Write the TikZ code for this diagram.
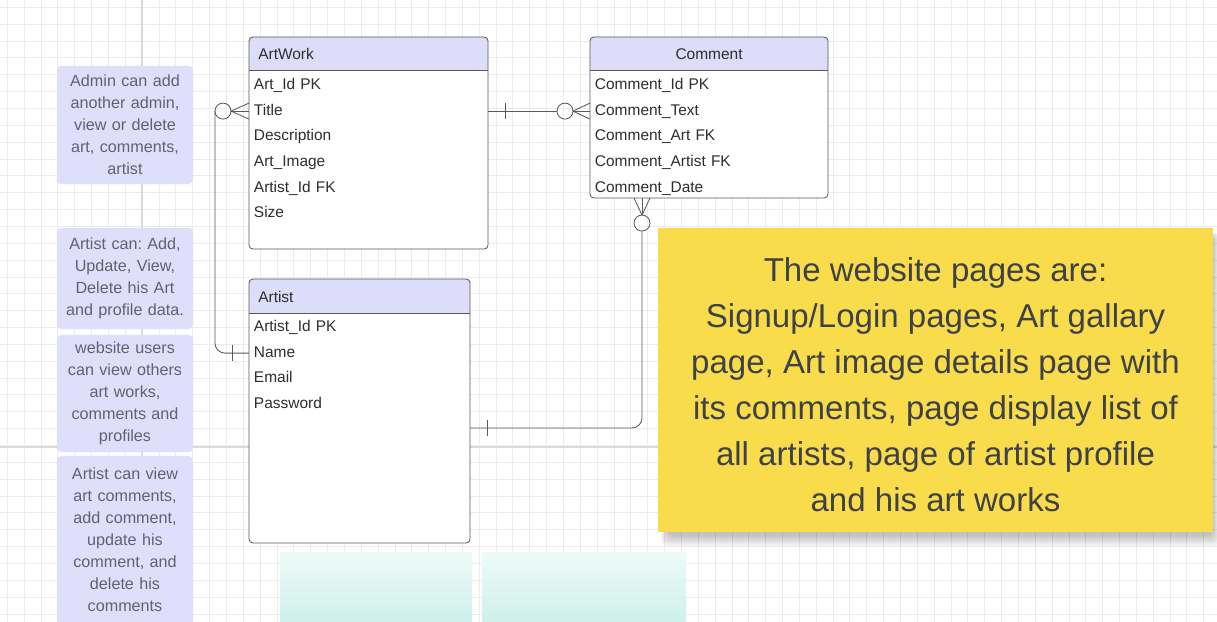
\documentclass[tikz,border=0pt]{standalone}
\usepackage{fontspec}
\setmainfont{Liberation Sans}
\frenchspacing
\usepackage{tikz}
\usetikzlibrary{calc}
\definecolor{lavender}{RGB}{221,221,250}
\definecolor{notefill}{RGB}{223,223,251}
\definecolor{notetext}{RGB}{96,98,112}
\definecolor{stickyyellow}{RGB}{248,220,76}
\definecolor{inkgray}{RGB}{62,66,70}
\definecolor{inkdark}{RGB}{45,45,50}
\definecolor{linegray}{RGB}{88,88,94}
\definecolor{gridminor}{RGB}{236,236,236}
\definecolor{gridmajor}{RGB}{218,218,218}
\definecolor{smudge}{RGB}{206,241,235}
\tikzstyle{tablebody} = [rectangle, anchor=north west, fill=white, outer sep=0pt, inner sep=0pt]
\tikzstyle{field} = [rectangle, minimum height=0.64cm, inner xsep=0.125cm, inner ysep=0pt, outer sep=0pt, align=left, text=inkdark, font=\fontsize{11}{13}\selectfont, text height=1.6ex, text depth=0.45ex]
\tikzstyle{headtitle} = [inner sep=0pt, anchor=west, text=inkdark, font=\fontsize{11}{13}\selectfont]
\tikzstyle{note} = [rectangle, rounded corners=0.1cm, minimum width=3.4cm, text width=3.3cm, align=center, fill=notefill, text=notetext, font=\fontsize{11.5}{15.6}\selectfont, inner sep=0pt]
\tikzstyle{sticky} = [rectangle, minimum width=13.875cm, minimum height=7.6cm, fill=stickyyellow, inner sep=0pt]
\tikzstyle{stickytext} = [align=center, text=inkgray, font=\fontsize{23.5}{32.7}\selectfont, inner sep=0pt]
\tikzstyle{erline} = [draw=linegray, line width=0.6pt]
\begin{document}
\begin{tikzpicture}[x=0.025cm, y=-0.025cm, node distance=0.64cm]
	\useasboundingbox (0,0) rectangle (1217,622);
	\fill[white] (0,0) rectangle (1217,622);
	%grid
	\foreach \gx in {7.3,24.15,...,1217} \draw[gridminor, line width=0.5pt] (\gx,0) -- (\gx,622);
	\foreach \gy in {7.3,24.15,...,622} \draw[gridminor, line width=0.5pt] (0,\gy) -- (1217,\gy);
	\draw[gridmajor, line width=0.9pt] (142,0) -- (142,622);
	\draw[gridmajor, line width=0.9pt] (0,447) -- (1217,447);
	%smudge below the tables
	\fill[top color=smudge!35!white, bottom color=smudge] (280,552) rectangle (472,622);
	\fill[top color=smudge!35!white, bottom color=smudge] (482,552) rectangle (686,622);
	%notes
	\node (n1) [note, minimum height=2.95cm] at (125,125) {Admin can add\\another admin,\\view or delete\\art, comments,\\artist};
	\node (n2) [note, minimum height=2.525cm] at (125,278.5) {Artist can: Add,\\Update, View,\\Delete his Art\\and profile data.};
	\node (n3) [note, minimum height=2.925cm] at (125,393.5) {website users\\can view others\\art works,\\comments and\\profiles};
	\node (n4) [note, minimum height=4.2cm] at (125,540) {Artist can view\\art comments,\\add comment,\\update his\\comment, and\\delete his\\comments};
	%ArtWork table
	\node (artwork) [tablebody, minimum width=5.975cm, minimum height=5.3cm] at (249,37) {};
	\begin{scope}
		\clip (artwork.north west) rectangle ($(artwork.north east)+(0,33)$);
		\fill[lavender, rounded corners=0.1cm] (artwork.north west) rectangle (artwork.south east);
	\end{scope}
	\draw[erline, rounded corners=0.1cm] (artwork.north west) rectangle (artwork.south east);
	\draw[erline] ($(artwork.north west)+(0,33)$) -- ($(artwork.north east)+(0,33)$);
	\node (awtitle) [headtitle] at ($(artwork.north west)+(9,17)$) {ArtWork};
	\node (aw1) [field, text width=5.725cm] at (368.5,85.5) {Art\_Id PK};
	\node (aw2) [field, text width=5.725cm, below of=aw1] {Title};
	\node (aw3) [field, text width=5.725cm, below of=aw2] {Description};
	\node (aw4) [field, text width=5.725cm, below of=aw3] {Art\_Image};
	\node (aw5) [field, text width=5.725cm, below of=aw4] {Artist\_Id FK};
	\node (aw6) [field, text width=5.725cm, below of=aw5] {Size};
	%Comment table
	\node (comment) [tablebody, minimum width=5.95cm, minimum height=4.025cm] at (590,37) {};
	\begin{scope}
		\clip (comment.north west) rectangle ($(comment.north east)+(0,33)$);
		\fill[lavender, rounded corners=0.1cm] (comment.north west) rectangle (comment.south east);
	\end{scope}
	\draw[erline, rounded corners=0.1cm] (comment.north west) rectangle (comment.south east);
	\draw[erline] ($(comment.north west)+(0,33)$) -- ($(comment.north east)+(0,33)$);
	\node (cttitle) [headtitle, anchor=center] at ($(comment.north)+(0,17)$) {Comment};
	\node (ct1) [field, text width=5.7cm] at (709,85.5) {Comment\_Id PK};
	\node (ct2) [field, text width=5.7cm, below of=ct1] {Comment\_Text};
	\node (ct3) [field, text width=5.7cm, below of=ct2] {Comment\_Art FK};
	\node (ct4) [field, text width=5.7cm, below of=ct3] {Comment\_Artist FK};
	\node (ct5) [field, text width=5.7cm, below of=ct4] {Comment\_Date};
	%Artist table
	\node (artist) [tablebody, minimum width=5.525cm, minimum height=6.6cm] at (249,279) {};
	\begin{scope}
		\clip (artist.north west) rectangle ($(artist.north east)+(0,34)$);
		\fill[lavender, rounded corners=0.1cm] (artist.north west) rectangle (artist.south east);
	\end{scope}
	\draw[erline, rounded corners=0.1cm] (artist.north west) rectangle (artist.south east);
	\draw[erline] ($(artist.north west)+(0,34)$) -- ($(artist.north east)+(0,34)$);
	\node (astitle) [headtitle] at ($(artist.north west)+(9,17.5)$) {Artist};
	\node (as1) [field, text width=5.275cm] at (359.5,327.5) {Artist\_Id PK};
	\node (as2) [field, text width=5.275cm, below of=as1] {Name};
	\node (as3) [field, text width=5.275cm, below of=as2] {Email};
	\node (as4) [field, text width=5.275cm, below of=as3] {Password};
	%sticky note with a soft shadow
	\foreach \s in {0,...,7}
		\fill[black, opacity=0.03, rounded corners=0.15cm] (668-\s,236-\s*0.5) rectangle (1213+\s,536+\s*1.5);
	\node (pages) [sticky] at (935.5,380) {};
	\node (pagestext) [stickytext] at ($(pages.center)+(0,5)$) {The website pages are:\\Signup/Login pages, Art gallary\\page, Art image details page with\\its comments, page display list of\\all artists, page of artist profile\\and his art works};
	%lines
	% ArtWork one -- many Comment
	\draw[erline] (aw2.east) -- ($(ct2.west)+(-33,0)$);
	\draw[erline] ($(aw2.east)+(17,-8)$) -- ($(aw2.east)+(17,8)$);
	\draw[erline] ($(ct2.west)+(-25,0)$) circle (0.2cm);
	\draw[erline] ($(ct2.west)+(-17,0)$) -- ($(ct2.west)+(0,-8)$);
	\draw[erline] ($(ct2.west)+(-17,0)$) -- (ct2.west);
	\draw[erline] ($(ct2.west)+(-17,0)$) -- ($(ct2.west)+(0,8)$);
	% Artist one -- many ArtWork
	\draw[erline, rounded corners=0.25cm] ($(aw2.west)+(-34,0)$) |- (as2.west);
	\draw[erline] ($(aw2.west)+(-26,0)$) circle (0.2cm);
	\draw[erline] ($(aw2.west)+(-18,0)$) -- ($(aw2.west)+(0,-8)$);
	\draw[erline] ($(aw2.west)+(-18,0)$) -- (aw2.west);
	\draw[erline] ($(aw2.west)+(-18,0)$) -- ($(aw2.west)+(0,8)$);
	\draw[erline] ($(as2.west)+(-17,-8)$) -- ($(as2.west)+(-17,8)$);
	% Artist one -- many Comment
	\draw[erline, rounded corners=0.25cm] ($(comment.south west)+(52,33)$) |- ($(artist.north east)+(0,149)$);
	\draw[erline] ($(comment.south west)+(52,25)$) circle (0.2cm);
	\draw[erline] ($(comment.south west)+(52,17)$) -- ($(comment.south west)+(44,0)$);
	\draw[erline] ($(comment.south west)+(52,17)$) -- ($(comment.south west)+(52,0)$);
	\draw[erline] ($(comment.south west)+(52,17)$) -- ($(comment.south west)+(60,0)$);
	\draw[erline] ($(artist.north east)+(17,141)$) -- ($(artist.north east)+(17,157)$);
\end{tikzpicture}
\end{document}
